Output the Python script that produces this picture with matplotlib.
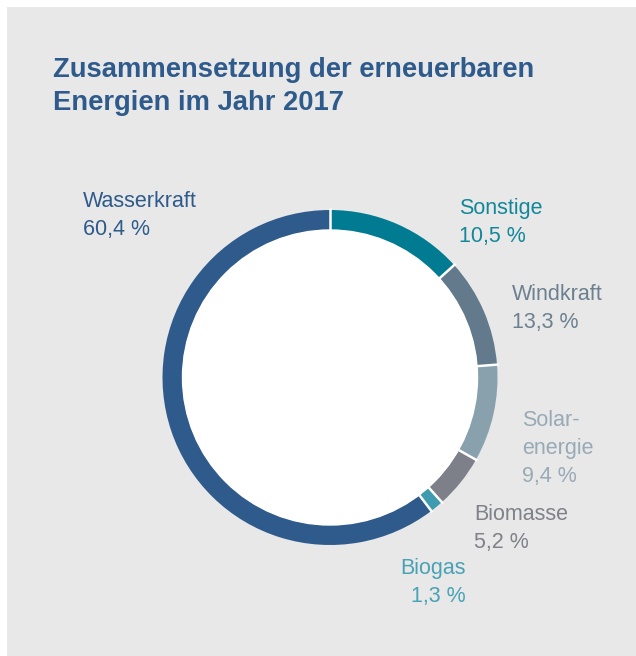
import matplotlib
matplotlib.use("Agg")
import matplotlib.pyplot as plt
import numpy as np

# ---- data ----
categories = ["Sonstige", "Windkraft", "Solar-\nenergie", "Biomasse", "Biogas", "Wasserkraft"]
label_values = ["10,5 %", "13,3 %", "9,4 %", "5,2 %", "1,3 %", "60,4 %"]
# arc sizes as drawn in the picture (clockwise from 12 o'clock)
drawn_shares = [13.3, 10.5, 9.4, 5.2, 1.3, 60.4]
colors = ["#017b91", "#637a8c", "#89a0ad", "#7e8089", "#3e9bb0", "#2f5b8c"]
text_colors = ["#13879a", "#6c8090", "#98aab6", "#808189", "#49a2b5", "#2f5b8c"]
title = "Zusammensetzung der erneuerbaren\nEnergien im Jahr 2017"

W, H = 636, 656
fig = plt.figure(figsize=(W / 100, H / 100), dpi=100)
fig.patch.set_facecolor("white")

# gray panel
bg = fig.add_axes([7 / W, 0, 1 - 7 / W, 1 - 7 / H])
bg.set_facecolor("#e8e8e8")
bg.set_xticks([]); bg.set_yticks([])
for s in bg.spines.values():
    s.set_visible(False)

def px(x, y):
    return x / W, 1 - y / H

fig.text(*px(53, 110), title, fontsize=19.7, fontweight="bold", color="#2f5b8c",
         family="Liberation Sans", va="baseline", ha="left", linespacing=1.36)

# donut
cx, cy, R = 330, 377.5, 167.5
ring = 20
ax = fig.add_axes([(cx - R) / W, 1 - (cy + R) / H, 2 * R / W, 2 * R / H])
wedges, _ = ax.pie(drawn_shares, colors=colors, startangle=90, counterclock=False,
                   radius=1, wedgeprops=dict(width=ring / R, linewidth=0))
ax.set_xlim(-1, 1); ax.set_ylim(-1, 1)
ax.set_aspect("equal")
ax.axis("off")
r_in = 1 - ring / R
ax.add_patch(plt.Circle((0, 0), r_in, color="white", zorder=3))
for w in wedges:
    t = np.deg2rad(w.theta1)
    ax.plot([r_in * np.cos(t), 1.01 * np.cos(t)], [r_in * np.sin(t), 1.01 * np.sin(t)],
            color="white", lw=1.8, zorder=4, solid_capstyle="butt", clip_on=False)

# labels (x, baseline of last line, alignment)
label_pos = {
    "Sonstige": (459, 242, "left"),
    "Windkraft": (512, 328, "left"),
    "Solar-\nenergie": (522, 482, "left"),
    "Biomasse": (474, 548, "left"),
    "Biogas": (466, 602, "right"),
    "Wasserkraft": (83, 235, "left"),
}
fs = 15.5
for cat, val, col in zip(categories, label_values, text_colors):
    x, y, ha = label_pos[cat]
    fig.text(*px(x, y), cat + "\n" + val, fontsize=fs, color=col, family="Liberation Sans",
             va="baseline", ha=ha, linespacing=1.45)

fig.savefig("out.png", dpi=100, facecolor=fig.get_facecolor())
